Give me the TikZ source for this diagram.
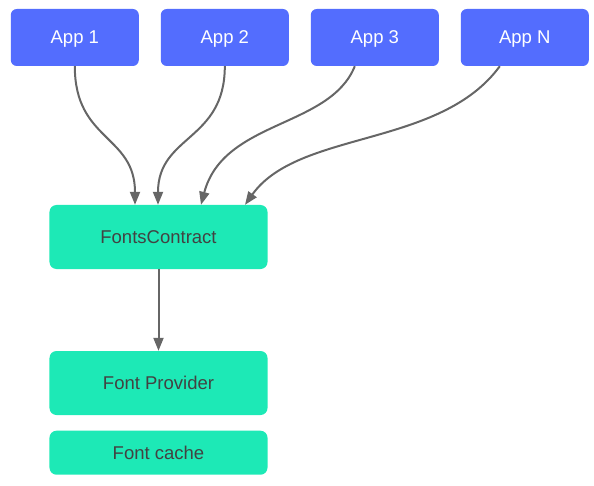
\documentclass[tikz,border=0pt]{standalone}
\usepackage{fontspec}
\setmainfont{Liberation Sans}
\usetikzlibrary{arrows.meta}
\definecolor{appblue}{HTML}{536DFE}
\definecolor{fcgreen}{HTML}{1DE9B6}
\definecolor{linegray}{HTML}{666666}
\definecolor{txtgray}{HTML}{424242}
\tikzset{
  appbox/.style={fill=appblue, rounded corners=6bp, minimum width=128bp, minimum height=57bp, text=white, inner sep=0pt, text height=13bp, text depth=0bp, font=\fontsize{18.5bp}{21bp}\selectfont},
  greenbox/.style={fill=fcgreen, rounded corners=7bp, minimum width=218bp, inner sep=0pt, text=txtgray, text height=13bp, text depth=0bp, font=\fontsize{18.5bp}{21bp}\selectfont},
  conn/.style={draw=linegray, line width=2bp, -{Triangle[length=13bp,width=10bp]}}
}
\begin{document}
\begin{tikzpicture}[x=1bp,y=-1bp]
\useasboundingbox (0,0) rectangle (594,486);
\node[appbox] (a1) at (74.8,37.5) {App 1};
\node[appbox] (a2) at (224.8,37.5) {App 2};
\node[appbox] (a3) at (374.8,37.5) {App 3};
\node[appbox] (an) at (524.8,37.5) {App N};
\node[greenbox, minimum height=64bp] (fc) at (158.5,237) {FontsContract};
\node[greenbox, minimum height=64bp] (fp) at (158.5,383) {Font Provider};
\node[greenbox, minimum height=44bp] (cache) at (158.5,452.7) {Font cache};
\draw[conn] (a1.south) .. controls ([yshift=-75bp]a1.south) and ([xshift=-23.5bp,yshift=70bp]fc.north) .. ([xshift=-23.5bp]fc.north);
\draw[conn] (a2.south) .. controls ([yshift=-75bp]a2.south) and ([xshift=-0.5bp,yshift=70bp]fc.north) .. ([xshift=-0.5bp]fc.north);
\draw[conn] ([xshift=-20bp]a3.south) .. controls ([xshift=-45bp,yshift=-62bp]a3.south) and ([xshift=65bp,yshift=85bp]fc.north) .. ([xshift=42.5bp]fc.north);
\draw[conn] ([xshift=-25bp]an.south) .. controls ([xshift=-85bp,yshift=-82bp]an.south) and ([xshift=140bp,yshift=75bp]fc.north) .. ([xshift=86.5bp]fc.north);
\draw[conn] (fc.south) -- (fp.north);
\end{tikzpicture}
\end{document}
